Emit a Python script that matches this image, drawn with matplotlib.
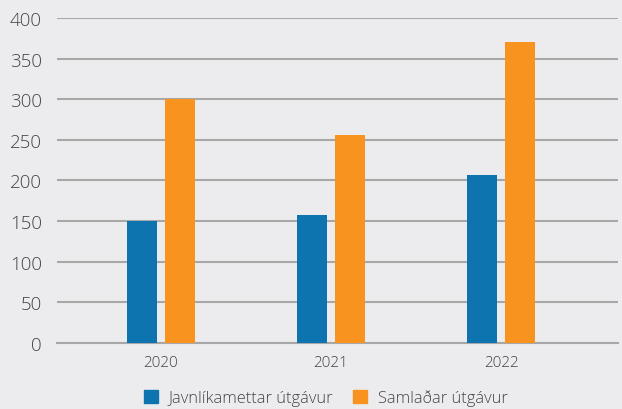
import numpy as np
import matplotlib.pyplot as plt
from matplotlib.patches import Patch

plt.rcParams['font.family'] = ['Open Sans', 'DejaVu Sans']
plt.rcParams['font.weight'] = 'light'

years = ['2020', '2021', '2022']
javnlikamettar = [150, 157, 207]
samladar = [300, 256, 370]
series_names = ['Javnlíkamettar útgávur', 'Samlaðar útgávur']

bg = '#ececee'
blue = '#0e74b0'
orange = '#f7931e'
grid_col = '#a8a8a8'
text_col = '#444444'

fig = plt.figure(figsize=(6.22, 4.10), dpi=100, facecolor=bg)
ax = fig.add_axes([0.0916, 0.161, 0.902, 0.793])
ax.set_facecolor(bg)

x = np.arange(len(years))
w = 0.176
off = 0.112
ax.bar(x - off, javnlikamettar, width=w, color=blue, zorder=3)
ax.bar(x + off, samladar, width=w, color=orange, zorder=3)

ax.set_xlim(-0.612, 2.688)
ax.set_ylim(0, 400)
ax.set_yticks(np.arange(0, 401, 50))
ax.yaxis.grid(True, color=grid_col, linewidth=1.5, zorder=0)
ax.set_axisbelow(True)
for s in ['top', 'right', 'left']:
    ax.spines[s].set_visible(False)
ax.spines['bottom'].set_color(grid_col)
ax.spines['bottom'].set_linewidth(1.5)

ax.set_xticks(x)
ax.set_xticklabels(years)
ax.tick_params(axis='x', length=0, pad=9, labelsize=11, labelcolor=text_col)
ax.tick_params(axis='y', length=0, pad=11, labelsize=13.5, labelcolor=text_col)

handles = [Patch(color=blue), Patch(color=orange)]
fig.legend(handles, series_names, loc='center', bbox_to_anchor=(0.524, 0.027),
           ncol=2, frameon=False, fontsize=11.8, handlelength=0.85, handleheight=0.85,
           handletextpad=0.65, columnspacing=1.2, labelcolor=text_col)

fig.savefig('out.png', dpi=100, facecolor=bg)
